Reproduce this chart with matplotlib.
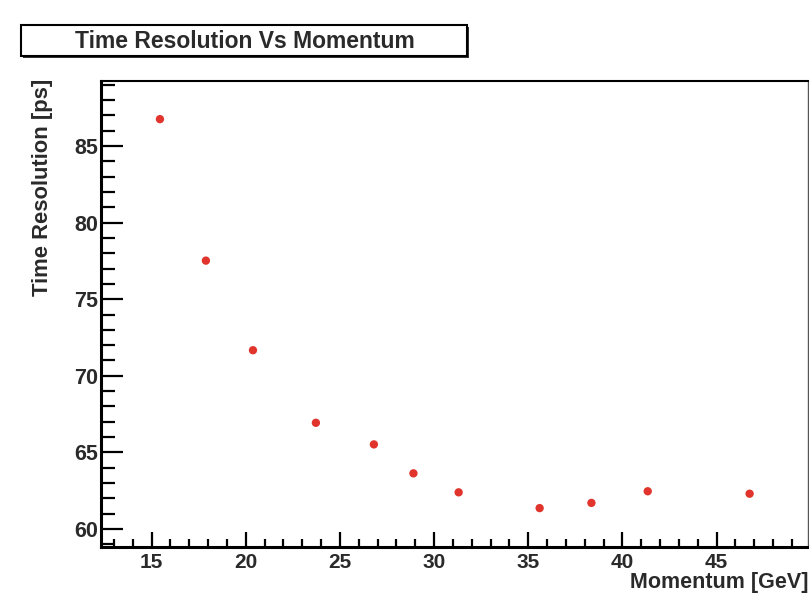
import matplotlib
matplotlib.use("Agg")
import matplotlib.pyplot as plt
from matplotlib.ticker import MultipleLocator
from matplotlib.patches import Rectangle

# data
momentum = [15.44, 17.88, 20.38, 23.72, 26.80, 28.90, 31.30, 35.60, 38.35, 41.34, 46.75]
time_res = [86.76, 77.52, 71.67, 66.93, 65.52, 63.63, 62.39, 61.36, 61.70, 62.46, 62.30]

title = "Time Resolution Vs Momentum"
xlabel = "Momentum [GeV]"
ylabel = "Time Resolution [ps]"

plt.rcParams["font.family"] = ["Liberation Sans", "DejaVu Sans"]
plt.rcParams["font.weight"] = "bold"

W, H = 809, 595
fig = plt.figure(figsize=(W / 100, H / 100), dpi=100)
ax = fig.add_axes([101 / W, (H - 547) / H, 707 / W, 466 / H])

ax.scatter(momentum, time_res, s=36, color="#e0342c", edgecolor="none", zorder=3)

ax.set_xlim(12.31, 49.85)
ax.set_ylim(58.82, 89.25)
ax.xaxis.set_major_locator(MultipleLocator(5))
ax.xaxis.set_minor_locator(MultipleLocator(1))
ax.yaxis.set_major_locator(MultipleLocator(5))
ax.yaxis.set_minor_locator(MultipleLocator(1))
ax.tick_params(which="both", direction="in", top=False, right=False, width=1.6, color="black")
ax.tick_params(axis="y", which="major", length=16, labelsize=15.5, pad=2)
ax.tick_params(axis="y", which="minor", length=10)
ax.tick_params(axis="x", which="major", length=11, labelsize=15, pad=4)
ax.tick_params(axis="x", which="minor", length=6)
for lab in ax.get_xticklabels() + ax.get_yticklabels():
    lab.set_fontweight("bold")
    lab.set_color("#2a2a2a")

ax.spines["left"].set_linewidth(2.2)
ax.spines["bottom"].set_linewidth(2.2)
ax.spines["top"].set_linewidth(1.5)
ax.spines["right"].set_linewidth(1.0)
ax.spines["right"].set_color("#555555")

fig.text(808 / W, 1 - 588 / H, xlabel, ha="right", va="baseline", fontsize=15.5,
         fontweight="bold", color="#2a2a2a")
fig.text(43 / W, 1 - 79 / H, ylabel, ha="center", va="top", rotation=90,
         fontsize=15.8, fontweight="bold", color="#2a2a2a")

# title box with shadow, ROOT style
fig.patches.append(Rectangle((23 / W, 1 - 58 / H), 446 / W, 31 / H, transform=fig.transFigure,
                             facecolor="#333333", edgecolor="none", zorder=1))
fig.patches.append(Rectangle((21 / W, 1 - 56 / H), 446 / W, 31 / H, transform=fig.transFigure,
                             facecolor="white", edgecolor="black", linewidth=1.5, zorder=2))
fig.text(245 / W, 1 - 41 / H, title, ha="center", va="center", fontsize=16.5,
         fontweight="bold", color="#2a2a2a", zorder=3)

fig.savefig("out.png", dpi=100)
